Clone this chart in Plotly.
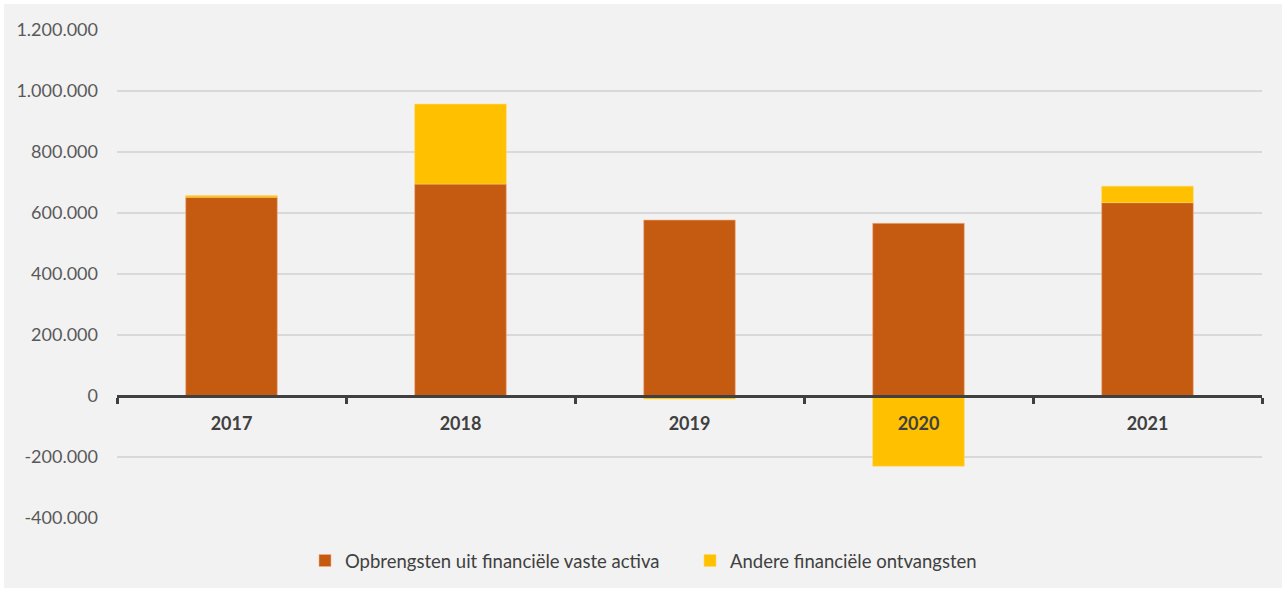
import plotly.graph_objects as go

years = ["2017", "2018", "2019", "2020", "2021"]
opbrengsten = [652000, 695000, 577000, 566000, 634000]
andere = [5000, 262000, -10000, -230000, 54000]
tick_vals = [-400000, -200000, 0, 200000, 400000, 600000, 800000, 1000000, 1200000]
tick_text = ["-400.000", "-200.000", "0", "200.000", "400.000", "600.000", "800.000", "1.000.000", "1.200.000"]

ORANGE = "#C55A11"
YELLOW = "#FFC000"
BG = "#F2F2F2"
FONT = "Lato"

fig = go.Figure()
fig.add_trace(go.Bar(
    x=years, y=opbrengsten, name="Opbrengsten uit financiële vaste activa",
    marker=dict(color=ORANGE, line=dict(color="#F4B183", width=0.6)),
))
fig.add_trace(go.Bar(
    x=years, y=andere, name="Andere financiële ontvangsten",
    marker=dict(color=YELLOW, line=dict(color="#FFD966", width=0.6)),
))

W, H = 1285, 589
ml, mr, mt, mb = 117, 23, 30, 71
pw, ph = W - ml - mr, H - mt - mb

fig.update_layout(
    width=W, height=H,
    barmode="relative", bargap=0.6,
    paper_bgcolor="white", plot_bgcolor=BG,
    margin=dict(l=ml, r=mr, t=mt, b=mb, pad=0, autoexpand=False),
    font=dict(family=FONT, color="#404040", size=18),
    showlegend=True,
    legend=dict(orientation="h", x=(305 - ml) / pw, xanchor="left",
                yref="container", y=1 - 561 / H, yanchor="middle",
                font=dict(family=FONT, size=18.5, color="#404040"),
                itemwidth=30, entrywidth=340, entrywidthmode="pixels",
                traceorder="normal", bgcolor="rgba(0,0,0,0)"),
    xaxis=dict(
        type="category", anchor="free", position=0.25,
        showline=True, linecolor="#404040", linewidth=3,
        ticks="outside", tickson="boundaries", ticklen=6, tickwidth=3, tickcolor="#404040",
        showgrid=False, zeroline=False,
        tickfont=dict(family=FONT, size=18, color="#404040", weight="bold"),
        ticklabelstandoff=10,
        range=[-0.5, 4.5],
    ),
    yaxis=dict(
        range=[-400000, 1200000], tickvals=tick_vals, ticktext=tick_text,
        showgrid=True, gridcolor="#D9D9D9", gridwidth=2,
        zeroline=False, showline=False,
        tickfont=dict(family=FONT, size=18, color="#595959"),
        ticks="", ticklabelstandoff=18,
    ),
    shapes=[
        dict(type="rect", xref="paper", yref="paper",
             x0=(4 - ml) / pw, x1=(W - 3 - ml) / pw,
             y0=-(mb - 1) / ph, y1=1 + (mt - 4) / ph,
             fillcolor=BG, line=dict(width=0), layer="below"),
    ],
)

fig.write_html(
    "out.html",
    config={"displayModeBar": False},
    post_script="document.body.style.margin='0';document.body.style.overflow='hidden';",
)
